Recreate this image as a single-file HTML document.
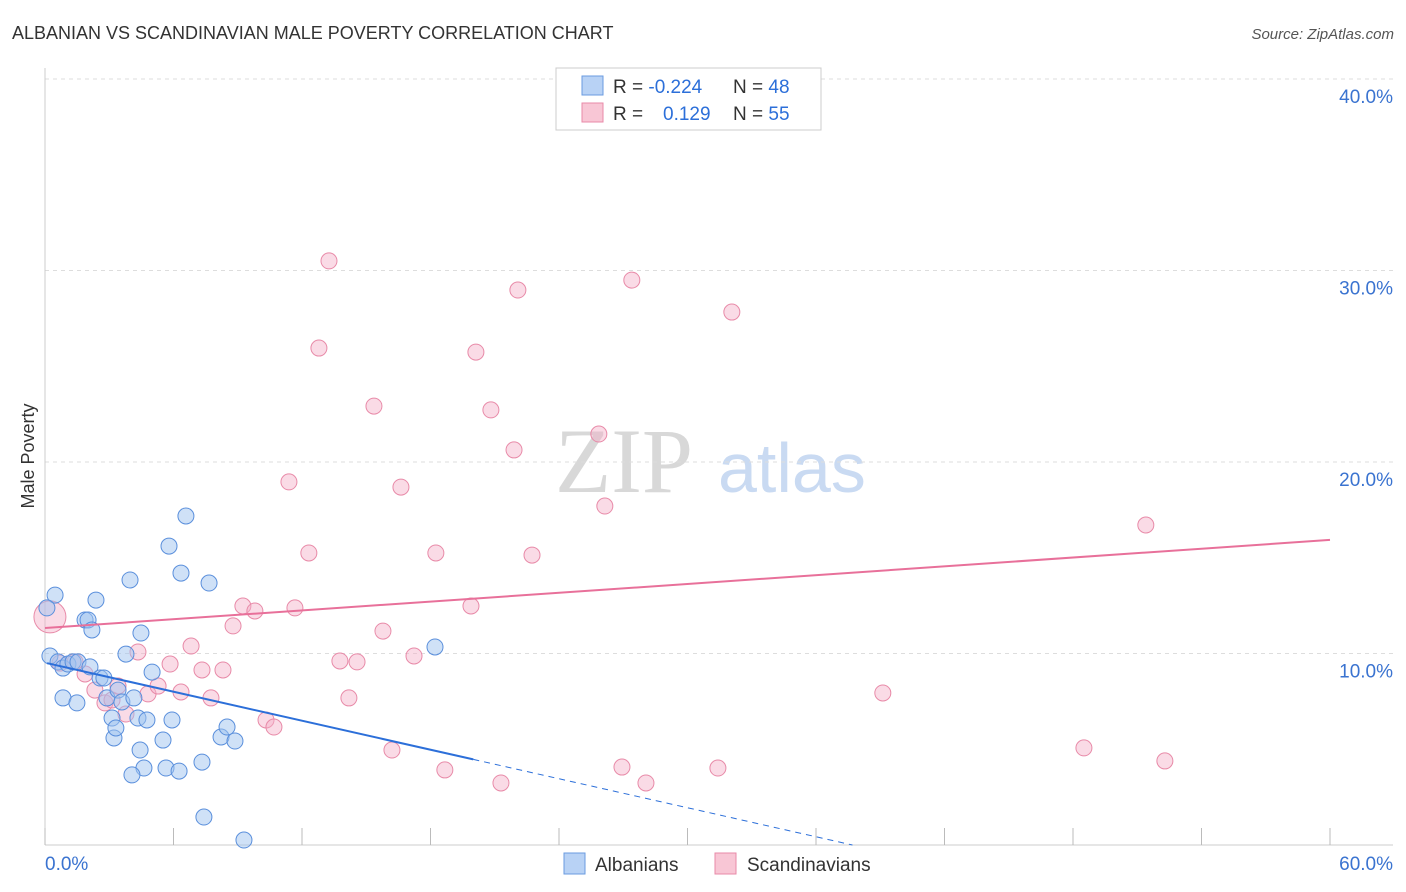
<!DOCTYPE html>
<html><head><meta charset="utf-8">
<style>
body{margin:0;background:#fff;font-family:"Liberation Sans",sans-serif;}
svg{display:block}
</style></head>
<body>
<svg id="chart" width="1406" height="892">
<text x="12" y="39" font-size="18" fill="#333">ALBANIAN VS SCANDINAVIAN MALE POVERTY CORRELATION CHART</text>
<text x="1394" y="39" font-size="15" fill="#555" font-style="italic" text-anchor="end">Source: ZipAtlas.com</text>
<text x="555" y="492" font-size="92" fill="#d8d8d8" font-family="Liberation Serif,serif">ZIP</text>
<text x="718" y="492" font-size="70" fill="#c9daf2">atlas</text>
<text transform="translate(34,456) rotate(-90)" font-size="18" fill="#333" text-anchor="middle">Male Poverty</text>
<g id="grid"></g><g id="pts"></g><g id="lines"></g>
<g>
<rect x="556" y="68" width="265" height="62" fill="#fff" stroke="#ccc"/>
<rect x="582" y="76" width="21" height="19" fill="#b8d2f5" stroke="#6a9be0"/>
<rect x="582" y="103" width="21" height="19" fill="#f8c6d5" stroke="#e88aa8"/>
<text x="613" y="93" font-size="19" fill="#333">R = <tspan fill="#2c6fd9">-0.224</tspan><tspan x="733">N = </tspan><tspan fill="#2c6fd9">48</tspan></text>
<text x="613" y="120" font-size="19" fill="#333">R = <tspan x="663" fill="#2c6fd9">0.129</tspan><tspan x="733">N = </tspan><tspan fill="#2c6fd9">55</tspan></text>
</g>
<g>
<rect x="564" y="853" width="21" height="21" fill="#b8d2f5" stroke="#6a9be0"/>
<text x="595" y="871" font-size="19" fill="#333">Albanians</text>
<rect x="715" y="853" width="21" height="21" fill="#f8c6d5" stroke="#e88aa8"/>
<text x="747" y="871" font-size="19" fill="#333">Scandinavians</text>
</g>
</svg>
<script>
const blueX=[0.47,0.09,0.23,0.61,0.84,1.07,1.31,1.54,2.10,0.84,1.49,1.87,2.01,2.19,2.38,2.57,2.75,2.89,3.13,3.22,3.31,3.41,3.59,3.78,3.97,4.15,4.34,4.44,4.48,4.62,4.76,5.00,5.51,5.65,5.79,5.93,6.26,6.35,6.58,7.33,7.42,7.66,8.22,8.50,8.87,9.29,18.21,4.06];
const blueY=[13.05,12.38,9.87,9.56,9.24,9.45,9.56,9.56,9.30,7.68,7.42,11.75,11.75,11.23,12.79,8.72,8.72,7.68,6.63,5.59,6.11,8.09,7.47,9.97,13.84,7.68,6.63,4.96,11.07,4.02,6.53,9.03,5.48,4.02,15.61,6.53,3.86,14.20,17.18,4.33,1.46,13.68,5.64,6.16,5.43,0.26,10.34,3.66];
const pinkX=[0.23,0.70,1.40,1.87,2.33,2.80,3.13,3.41,3.78,4.34,4.81,5.28,5.84,6.35,6.82,7.33,7.75,8.31,8.78,9.24,9.80,10.32,10.69,11.39,11.67,12.32,12.79,13.26,13.77,14.19,14.57,15.36,15.78,16.20,16.62,17.23,18.25,18.67,19.89,20.12,20.82,21.29,21.90,22.08,22.74,25.86,26.14,26.94,27.40,28.06,31.42,32.07,39.12,48.51,51.40,52.29];
const pinkY=[11.91,9.50,9.56,8.93,8.09,7.42,7.57,8.30,6.84,10.08,7.89,8.30,9.45,7.99,10.39,9.14,7.68,9.14,11.44,12.48,12.22,6.53,6.16,18.96,12.38,15.25,25.95,30.50,9.61,7.68,9.56,22.92,11.17,4.96,18.69,9.87,15.25,3.92,12.48,25.74,22.72,3.24,20.63,28.98,15.14,21.46,17.70,4.07,29.50,3.24,4.02,27.83,7.94,5.07,16.71,4.39];
const blueTrend=[9.52,-0.2525]; // intercept, slope
const pinkTrend=[11.33,0.0767];
const yTicks=[10,20,30,40];
const yTickLabels=["10.0%","20.0%","30.0%","40.0%"];
const xTicks=[0,6,12,18,24,30,36,42,48,54,60];
const NS="http://www.w3.org/2000/svg";
const X=v=>45+v*1285/60, Y=v=>845-v*19.15;
function mk(tag,attrs,parent){const e=document.createElementNS(NS,tag);for(const k in attrs)e.setAttribute(k,attrs[k]);parent.appendChild(e);return e;}
const grid=document.getElementById('grid'),pts=document.getElementById('pts'),lines=document.getElementById('lines');
yTicks.forEach((t,i)=>{
 const l=mk('line',{x1:45,x2:1393,y1:Y(t),y2:Y(t),stroke:'#ddd','stroke-dasharray':'4,4'},grid);
 
 
 const tx=mk('text',{x:1393,y:Y(t)+24,'font-size':19,fill:'#3a73d0','text-anchor':'end'},grid);
 tx.textContent=yTickLabels[i];
 
 
});
const ax=mk('line',{x1:45,x2:45,y1:68,y2:845,stroke:'#ccc'},grid);


const bx=mk('line',{x1:45,x2:1393,y1:845,y2:845,stroke:'#ccc'},grid);


xTicks.forEach(t=>{
 const l=mk('line',{x1:X(t),x2:X(t),y1:828,y2:845,stroke:'#bbb'},grid);
 
 
});
const xl0=mk('text',{x:45,y:870,'font-size':19,fill:'#3a73d0'},grid);xl0.textContent=xTicks[0].toFixed(1)+'%';


const xl1=mk('text',{x:1393,y:870,'font-size':19,fill:'#3a73d0','text-anchor':'end'},grid);xl1.textContent=xTicks[xTicks.length-1].toFixed(1)+'%';


pinkX.forEach((x,i)=>{
 const c=mk('circle',{cx:X(x),cy:Y(pinkY[i]),r:i===0?16:8,fill:'rgba(245,176,200,0.45)',stroke:'#e88aa8','stroke-width':1},pts);
 
 
});
blueX.forEach((x,i)=>{
 const c=mk('circle',{cx:X(x),cy:Y(blueY[i]),r:8,fill:'rgba(160,195,240,0.5)',stroke:'#5a8fdc','stroke-width':1},pts);
 
 
});
const bt=v=>blueTrend[0]+blueTrend[1]*v, pt=v=>pinkTrend[0]+pinkTrend[1]*v;
const l1=mk('line',{x1:X(0.1),y1:Y(bt(0.1)),x2:X(20),y2:Y(bt(20)),stroke:'#2c6fd9','stroke-width':2},lines);


const xe=-blueTrend[0]/blueTrend[1];
const l2=mk('line',{x1:X(20),y1:Y(bt(20)),x2:X(xe),y2:Y(0),stroke:'#2c6fd9','stroke-width':1,'stroke-dasharray':'6,5'},lines);


const l3=mk('line',{x1:X(0),y1:Y(pt(0)),x2:X(60),y2:Y(pt(60)),stroke:'#e8709a','stroke-width':2},lines);


</script>
</body></html>
